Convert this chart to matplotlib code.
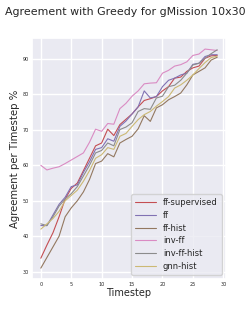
import numpy as np
import matplotlib
matplotlib.use('Agg')
import matplotlib.pyplot as plt
import seaborn as sns

timesteps = list(range(30))

ff_supervised = [33.8, 37.5, 41.0, 45.5, 50.5, 53.5, 55.0, 58.5, 62.0, 65.5,
                 66.3, 70.2, 68.4, 71.5, 73.0, 74.5, 76.5, 78.3, 78.8, 79.4,
                 81.0, 82.2, 84.6, 84.9, 86.5, 87.5, 88.0, 90.2, 90.9, 91.0]
ff = [43.0, 43.0, 46.0, 49.0, 51.0, 54.0, 54.5, 58.0, 61.0, 64.5,
      65.0, 67.5, 66.8, 71.0, 72.5, 74.5, 76.5, 81.0, 79.0, 79.4,
      82.2, 84.0, 84.6, 85.5, 86.0, 88.5, 88.8, 90.7, 91.2, 91.2]
ff_hist = [31.0, 34.0, 37.0, 40.0, 45.5, 48.0, 50.0, 52.5, 56.0, 60.5,
           61.2, 63.3, 62.4, 66.3, 67.3, 68.2, 70.3, 74.0, 72.4, 76.2,
           77.1, 78.5, 79.4, 80.4, 82.7, 85.5, 86.5, 87.5, 89.7, 90.5]
inv_ff = [60.0, 58.7, 59.2, 59.6, 60.5, 61.5, 62.5, 63.5, 66.5, 70.2,
          69.6, 71.8, 71.6, 76.0, 77.5, 79.5, 81.0, 83.0, 83.2, 83.3,
          86.0, 86.8, 88.0, 88.4, 89.2, 91.0, 91.4, 92.8, 92.6, 92.4]
inv_ff_hist = [43.5, 43.0, 45.5, 48.5, 50.5, 52.0, 54.0, 57.0, 60.0, 63.5,
               64.2, 66.3, 65.5, 70.1, 70.8, 72.0, 75.2, 76.0, 75.8, 79.0,
               79.5, 82.2, 82.6, 84.0, 86.0, 88.3, 88.8, 90.2, 91.5, 92.6]
gnn_hist = [42.0, 43.5, 45.0, 47.0, 50.0, 51.5, 53.0, 55.5, 58.5, 62.0,
            63.0, 65.0, 64.5, 68.2, 69.0, 71.0, 72.9, 74.3, 75.2, 76.7,
            78.0, 79.4, 81.8, 82.7, 84.0, 85.5, 87.3, 89.0, 90.4, 90.8]

series = [('ff-supervised', ff_supervised), ('ff', ff), ('ff-hist', ff_hist),
          ('inv-ff', inv_ff), ('inv-ff-hist', inv_ff_hist), ('gnn-hist', gnn_hist)]

sns.set_theme(style='darkgrid')
colors = sns.color_palette('deep')[3:9]

fig = plt.figure(figsize=(2.52, 3.15), dpi=100)
ax = fig.add_axes([0.127, 0.114, 0.77, 0.765])

for (name, vals), c in zip(series, colors):
    ax.plot(timesteps, vals, color=c, lw=0.8, label=name)

ax.set_title('Agreement with Greedy for gMission 10x30', fontsize=7.9, y=1.06, x=0.48)
ax.set_xlabel('Timestep', fontsize=7, labelpad=1)
ax.set_ylabel('Agreement per Timestep %', fontsize=7.3, labelpad=2)
ax.set_xticks([0, 5, 10, 15, 20, 25, 30])
ax.set_yticks([30, 40, 50, 60, 70, 80, 90])
ax.tick_params(labelsize=3.5, pad=2, length=0)
ax.legend(loc='lower right', fontsize=6, handlelength=2.5, borderpad=0.5,
          labelspacing=0.45)

fig.savefig('out.png', dpi=100)
